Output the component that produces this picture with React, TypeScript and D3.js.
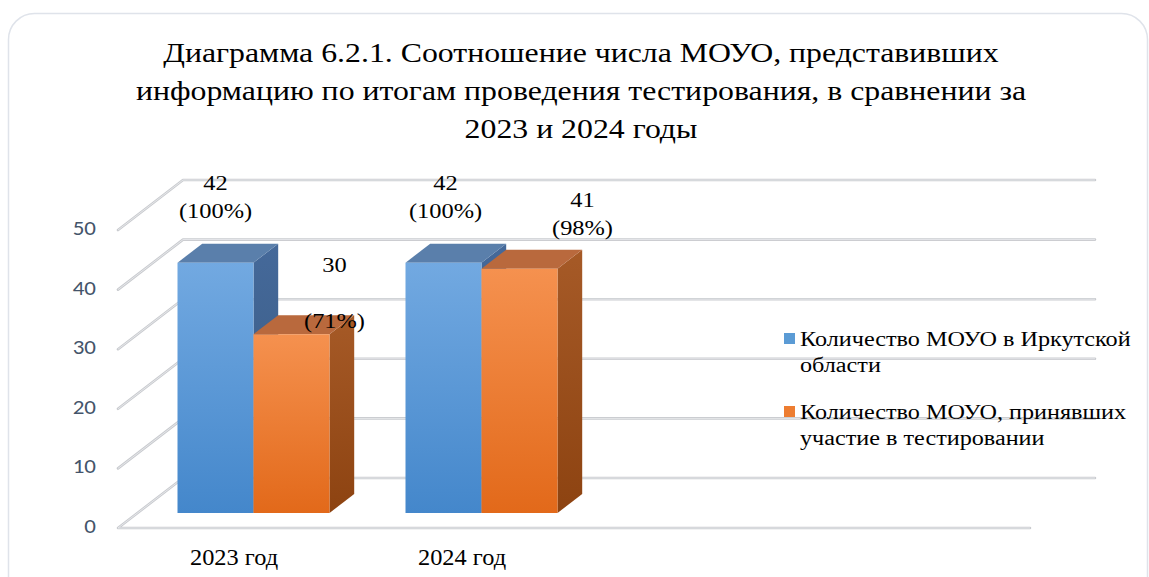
import React from 'react'
import * as d3 from 'd3'

const categories = ['2023 год', '2024 год']
const seriesNames = [
  ['Количество МОУО в Иркутской', 'области'],
  ['Количество МОУО, принявших', 'участие в тестировании'],
]
const totalMouo = [42, 42]
const testedMouo = [30, 41]
const totalLabels = [
  ['42', '(100%)'],
  ['42', '(100%)'],
]
const testedLabels = [
  ['30', '', '(71%)'],
  ['41', '(98%)'],
]
const yTicks = [0, 10, 20, 30, 40, 50]
const titleLines = [
  'Диаграмма 6.2.1. Соотношение числа МОУО, представивших',
  'информацию по итогам проведения тестирования, в сравнении за',
  '2023 и 2024 годы',
]

const W = 1149
const H = 577
// oblique depth vector of the floor
const DX = 65
const DY = 50
const Z0 = 0.3
const Z1 = 0.68
const plotLeft = 118
const plotRight = 1030
const SERIF = "'Liberation Serif', 'Times New Roman', serif"

// label nudges relative to bar front-top-left corner [dx, dy of last line]
const labelNudge = [
  [
    [38, -45],
    [40, -45],
  ],
  [
    [81, -6],
    [101, -34],
  ],
]

const colors = [
  { front: ['#72a9e1', '#4487cb'], side: ['#45699a', '#37597f'], top: '#5a7fab', legend: '#5b9bd5' },
  { front: ['#f5914f', '#e2691a'], side: ['#a65a27', '#8d4311'], top: '#b9693d', legend: '#ed7d31' },
]

// text stretched horizontally like the source picture
const T: React.FC<{ x: number; y: number; sx: number; children: React.ReactNode }> = ({ x, y, sx, children }) => (
  <text transform={`translate(${x},${y}) scale(${sx},1)`}>{children}</text>
)

const App: React.FC = () => {
  const y = d3.scaleLinear().domain([0, 50]).range([528, 230])
  const x0 = d3.scaleBand<string>().domain(categories).range([120, 576]).paddingInner(1 / 3).paddingOuter(1 / 6)
  const x1 = d3.scaleBand<number>().domain([0, 1]).range([0, x0.bandwidth()])
  const P = (x: number, v: number, z: number): [number, number] => [x + DX * z, y(v) - DY * z]
  const pts = (a: [number, number][]) => a.map((p) => p.join(',')).join(' ')

  const series = [totalMouo, testedMouo]
  const labels = [totalLabels, testedLabels]

  const line = (a: [number, number][], key: string | number) => (
    <g key={key}>
      <polyline
        points={pts(a)}
        fill="none"
        stroke="#c9cbcf"
        strokeWidth={2.6}
        strokeLinecap="round"
        strokeLinejoin="round"
      />
      <polyline points={pts(a)} fill="none" stroke="#eceef0" strokeWidth={0.8} />
    </g>
  )

  return (
    <div style={{ position: 'absolute', left: 0, top: 0 }}>
      <svg width={W} height={H} style={{ display: 'block' }}>
        <defs>
          {colors.map((c, i) => (
            <React.Fragment key={i}>
              <linearGradient id={`front${i}`} x1="0" y1="0" x2="0" y2="1">
                <stop offset="0" stopColor={c.front[0]} />
                <stop offset="1" stopColor={c.front[1]} />
              </linearGradient>
              <linearGradient id={`side${i}`} x1="0" y1="0" x2="0" y2="1">
                <stop offset="0" stopColor={c.side[0]} />
                <stop offset="1" stopColor={c.side[1]} />
              </linearGradient>
            </React.Fragment>
          ))}
        </defs>
        <rect x={8.5} y={13.5} width={1139} height={600} rx={26} fill="#fff" stroke="#dfe3ea" strokeWidth={1.5} />

        <g fontFamily={SERIF} fontSize={26.5} textAnchor="middle" fill="#000">
          {titleLines.map((t, i) => (
            <T key={i} x={581} y={62 + i * 38} sx={1.2}>
              {t}
            </T>
          ))}
        </g>

        {/* floor and walls */}
        {line([P(plotRight, 0, 0), P(plotLeft, 0, 0), P(plotLeft, 0, 1), P(plotRight, 0, 1)], 'floor')}
        {yTicks
          .filter((v) => v > 0)
          .map((v) => line([P(plotLeft, v, 0), P(plotLeft, v, 1), P(plotRight, v, 1)], v))}

        {/* y axis labels */}
        <g fontFamily="Carlito, Lato, sans-serif" fontSize={20} fill="#44546a" textAnchor="end">
          {yTicks.map((v) => (
            <T key={v} x={96} y={y(v) + 5} sx={1.15}>
              {v}
            </T>
          ))}
        </g>

        {/* bars */}
        {categories.map((cat, ci) => (
          <g key={cat}>
            {series.map((s, si) => {
              const xl = (x0(cat) as number) + (x1(si) as number)
              const xr = xl + x1.bandwidth()
              const v = s[ci]
              const front = [P(xl, v, Z0), P(xr, v, Z0), P(xr, 0, Z0), P(xl, 0, Z0)]
              const side = [P(xr, v, Z0), P(xr, v, Z1), P(xr, 0, Z1), P(xr, 0, Z0)]
              const top = [P(xl, v, Z0), P(xl, v, Z1), P(xr, v, Z1), P(xr, v, Z0)]
              return (
                <g key={si}>
                  <polygon points={pts(side)} fill={`url(#side${si})`} />
                  <polygon points={pts(top)} fill={colors[si].top} />
                  <polygon points={pts(front)} fill={`url(#front${si})`} />
                </g>
              )
            })}
          </g>
        ))}

        {/* data labels */}
        <g fontFamily={SERIF} fontSize={22} textAnchor="middle" fill="#000">
          {categories.map((cat, ci) =>
            series.map((s, si) => {
              const xl = (x0(cat) as number) + (x1(si) as number)
              const [cx, cy] = P(xl, s[ci], Z0)
              const [ndx, ndy] = labelNudge[si][ci]
              const lines = labels[si][ci]
              return lines.map((t, li) => (
                <T key={`${ci}-${si}-${li}`} x={cx + ndx} y={cy + ndy - (lines.length - 1 - li) * 28} sx={1.11}>
                  {t}
                </T>
              ))
            })
          )}
        </g>

        {/* category labels */}
        <g fontFamily={SERIF} fontSize={23} textAnchor="middle" fill="#000">
          {categories.map((cat) => (
            <T key={cat} x={(x0(cat) as number) + x0.bandwidth() / 2} y={565} sx={1.06}>
              {cat}
            </T>
          ))}
        </g>

        {/* legend */}
        <g fontFamily={SERIF} fontSize={20} fill="#000">
          {seriesNames.map((lines, i) => (
            <g key={i} transform={`translate(784, ${333 + i * 73})`}>
              <rect x={0} y={0} width={11} height={11} fill={colors[i].legend} />
              {lines.map((t, li) => (
                <T key={li} x={16} y={13 + li * 26} sx={1.21}>
                  {t}
                </T>
              ))}
            </g>
          ))}
        </g>
      </svg>
    </div>
  )
}

export default App
